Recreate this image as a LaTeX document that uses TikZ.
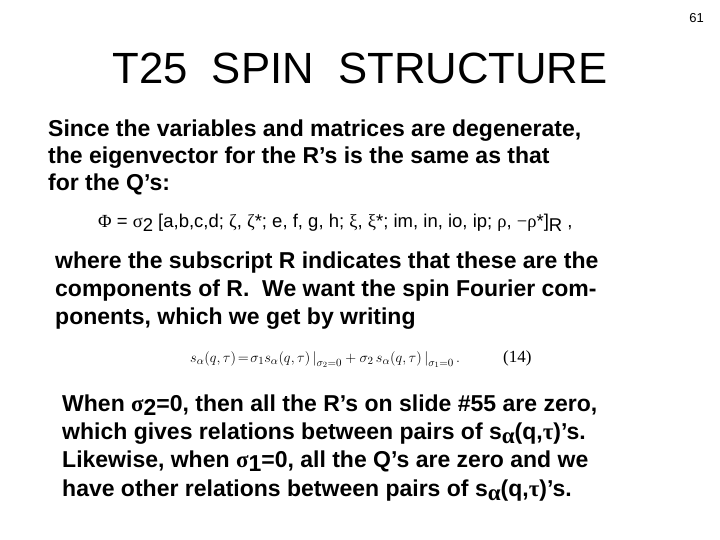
\documentclass[tikz,border=0pt]{standalone}
\usepackage{fontspec}
\setmainfont{Liberation Sans}
\newfontfamily\serf{Liberation Serif}
\begin{document}
\begin{tikzpicture}[x=1pt,y=-1pt,
  body/.style={anchor=base west,inner sep=0pt,font=\fontsize{23}{27}\selectfont\bfseries}]
\useasboundingbox (0,0) rectangle (720,540);
\node[anchor=base east,inner sep=0pt,font=\fontsize{13}{15}\selectfont] (pg) at (704,23) {61};
\node[anchor=base,inner sep=0pt,font=\fontsize{43.7}{50}\selectfont] (title) at (360,84) {T25\ \ SPIN\ \ STRUCTURE};
\node[body] (l1) at (48,137) {Since the variables and matrices are degenerate,};
\node[body] (l2) at (48,164) {the eigenvector for the R’s is the same as that};
\node[body] (l3) at (48,191) {for the Q’s:};
\node[anchor=base west,inner sep=0pt,font=\fontsize{18.5}{22}\selectfont] (phi) at (98,228)
  {{\serf Φ} = {\serf σ}\raisebox{-4pt}{2} [a,b,c,d; {\serf ζ}, {\serf ζ}*; e, f, g, h; {\serf ξ}, {\serf ξ}*; im, in, io, ip; {\serf ρ}, {\serf −ρ}*]\raisebox{-4pt}{R} ,};
\node[body] (m1) at (55,268) {where the subscript R indicates that these are the};
\node[body] (m2) at (55,296) {components of R.\ \ We want the spin Fourier com-};
\node[body] (m3) at (55,324) {ponents, which we get by writing};
\node[anchor=base west,inner sep=0pt,font=\fontsize{15.3}{17}\selectfont] (eq) at (190,362)
  {$s_\alpha(q,\tau)\!=\!\sigma_1 s_\alpha(q,\tau)\,\big|_{\sigma_2=0}+\sigma_2\, s_\alpha(q,\tau)\,\big|_{\sigma_1=0}\,.$};
\node[anchor=base west,inner sep=0pt,font=\fontsize{17}{19}\selectfont\serf] (num) at (503,362) {(14)};
\node[body] (n1) at (62,411) {When {\serf σ}\raisebox{-4pt}{2}=0, then all the R’s on slide \#55 are zero,};
\node[body] (n2) at (62,439) {which gives relations between pairs of s\raisebox{-4pt}{{\serf α}}(q,{\serf τ})’s.};
\node[body] (n3) at (62,467) {Likewise, when {\serf σ}\raisebox{-4pt}{1}=0, all the Q’s are zero and we};
\node[body] (n4) at (62,496) {have other relations between pairs of s\raisebox{-4pt}{{\serf α}}(q,{\serf τ})’s.};
\end{tikzpicture}
\end{document}
